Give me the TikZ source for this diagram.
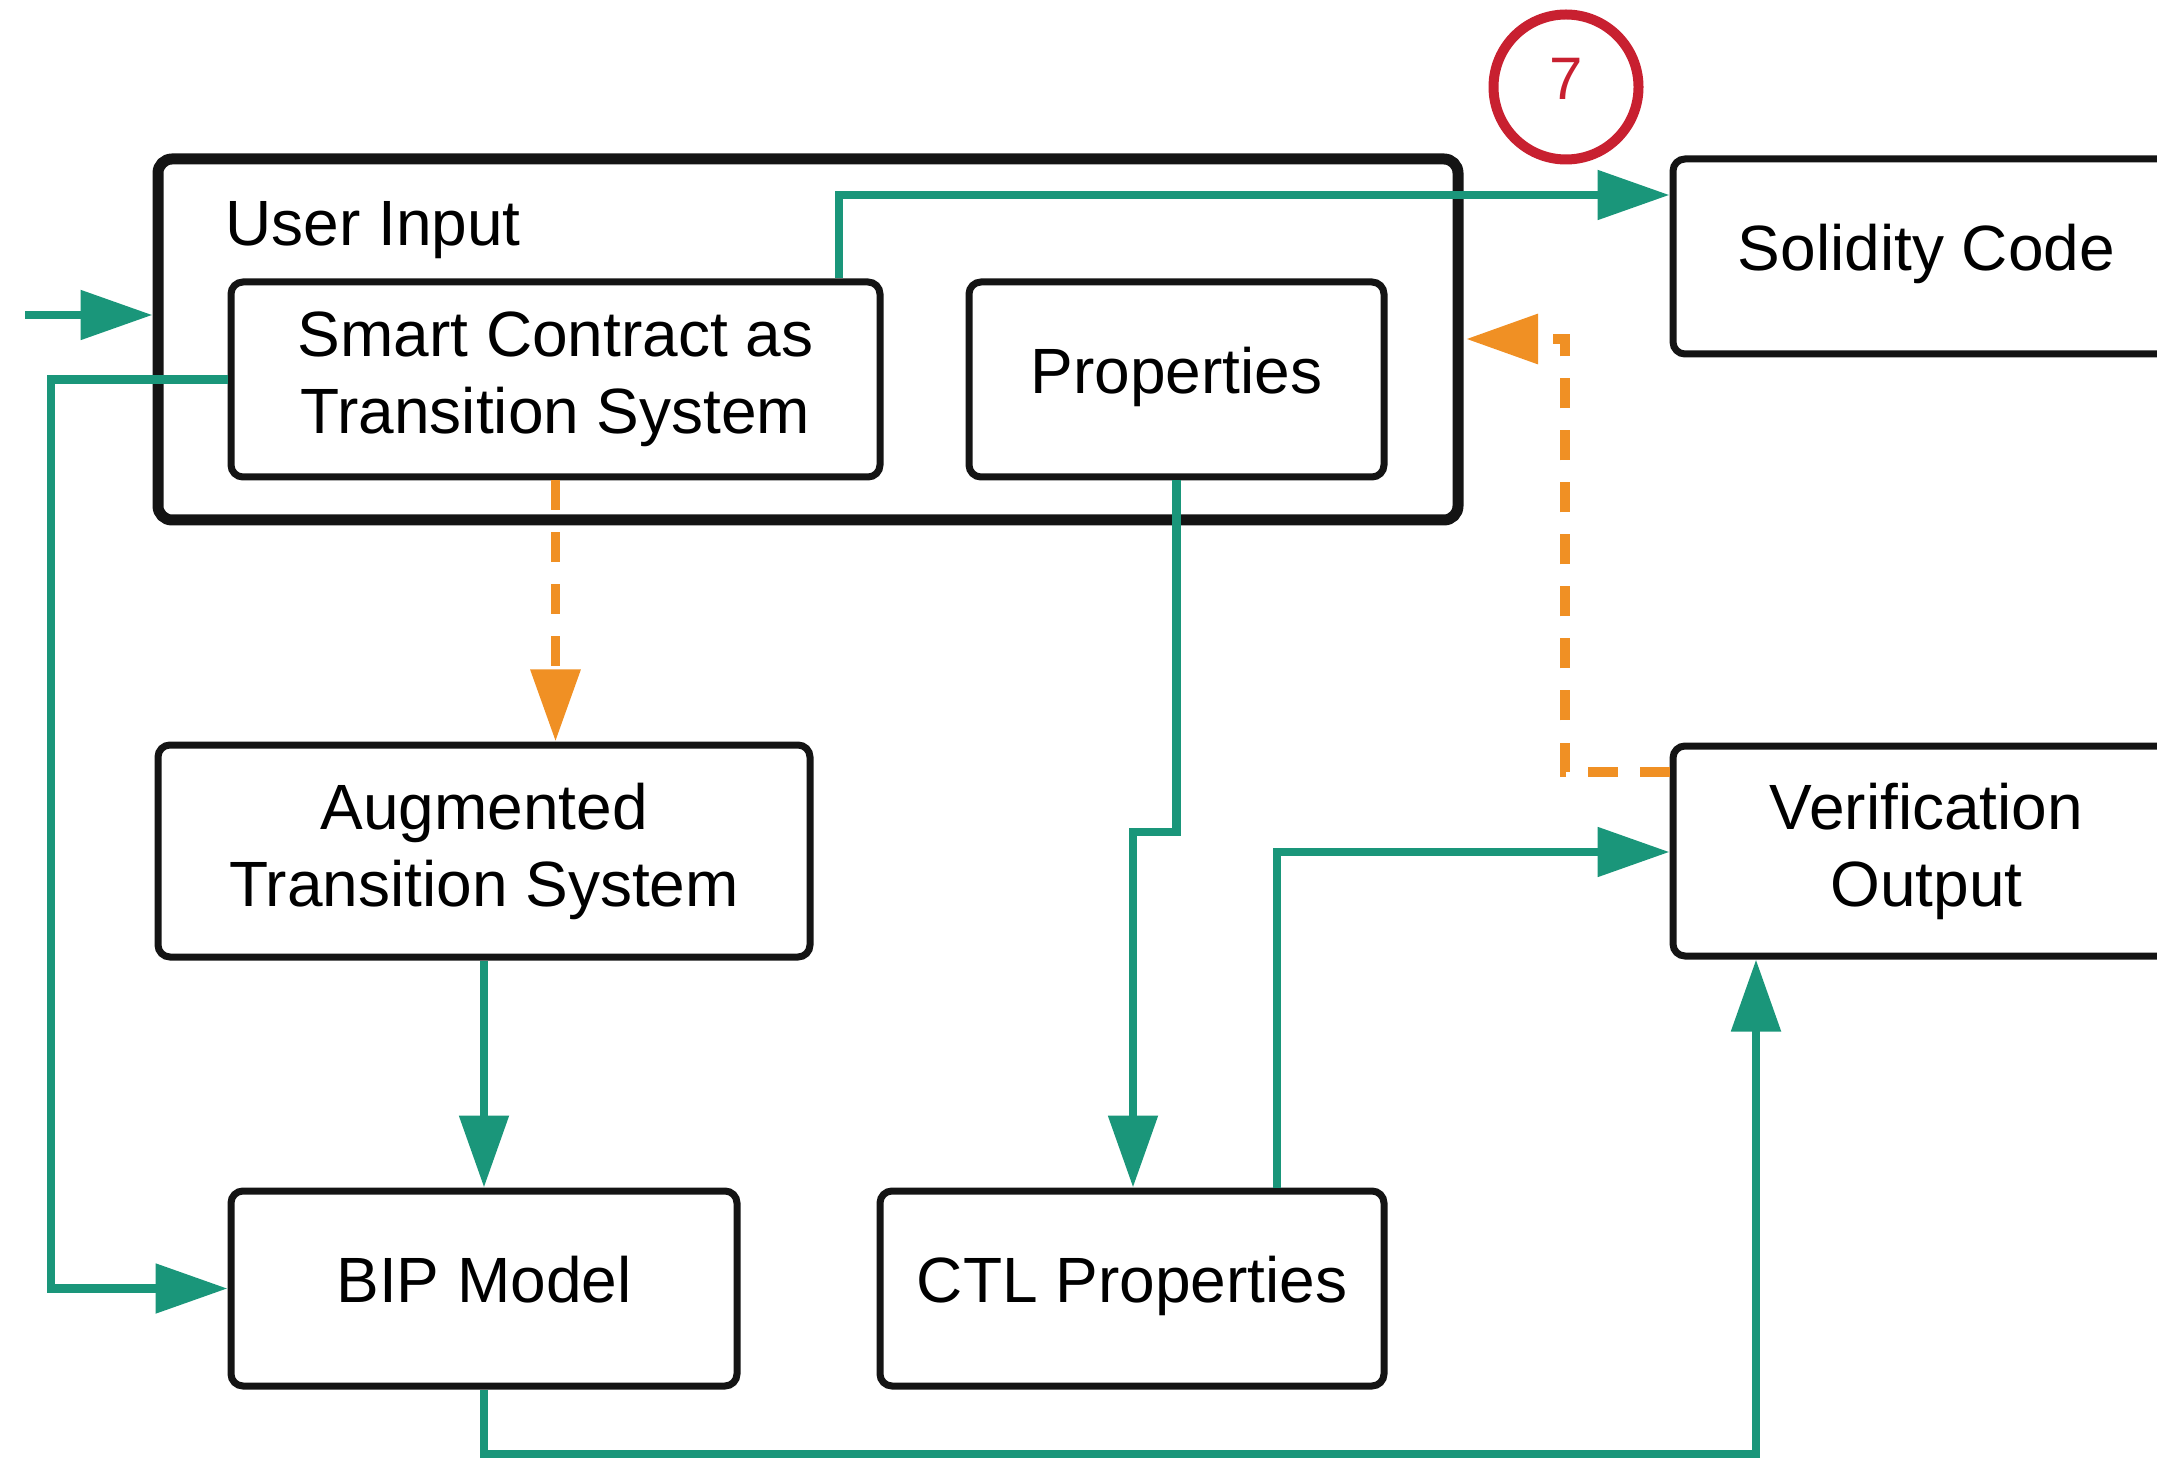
\documentclass[tikz,border=0pt]{standalone}
\usepackage{fontspec}
\setmainfont{Liberation Sans}
\usetikzlibrary{arrows.meta}
\definecolor{flowgreen}{RGB}{26,150,122}
\definecolor{feedorange}{RGB}{240,144,36}
\definecolor{markred}{RGB}{200,32,48}
\begin{document}
\begin{tikzpicture}[x=0.5pt,y=-0.5pt,
  box/.style={draw=black!92, line width=3.5pt, rounded corners=6pt, inner sep=0pt,
    align=center, font=\fontsize{32}{38.5}\selectfont},
  oneline/.style={text height=24pt, text depth=10pt},
  flow/.style={draw=flowgreen, line width=4.3pt,
    -{Triangle[length=36pt,width=24pt]}},
  feedback/.style={draw=feedorange, line width=4.8pt, dash pattern=on 15pt off 11pt,
    -{Triangle[length=36pt,width=24pt]}},
]
\useasboundingbox (0,0) rectangle (2157,1459);
\clip (0,0) rectangle (2157,1459);

% user input group and its parts
\node[box, line width=5.5pt, rounded corners=7pt, minimum width=650pt, minimum height=180.5pt] (ui) at (808,339.5) {};
\node[anchor=base west, inner sep=0pt, font=\fontsize{32}{38.5}\selectfont] (uilabel) at (225,246) {User Input};
\node[box, minimum width=324.5pt, minimum height=97.5pt] (sc) at (555.5,379.5) {Smart Contract as\\Transition System};
\node[box, oneline, minimum width=207.5pt, minimum height=97.5pt] (prop) at (1176.5,379.5) {Properties};

% remaining stages
\node[box, oneline, minimum width=253.5pt, minimum height=97.5pt] (sol) at (1926.5,256.5) {Solidity Code};
\node[box, minimum width=253.5pt, minimum height=105pt] (ver) at (1926.5,851) {Verification\\Output};
\node[box, minimum width=326pt, minimum height=106pt] (aug) at (484,851) {Augmented\\Transition System};
\node[box, oneline, minimum width=253pt, minimum height=97.5pt] (bip) at (484,1288.5) {BIP Model};
\node[box, oneline, minimum width=252pt, minimum height=97.5pt] (ctl) at (1132,1288.5) {CTL Properties};

% step marker
\node[draw=markred, circle, line width=5pt, minimum size=72.5pt, inner sep=0pt,
  text=markred, font=\fontsize{30}{36}\selectfont, text height=22pt, text depth=9pt] (seven) at (1566,87) {7};

% incoming flow
\coordinate (entry) at (25,315);
\draw[flow] (entry) -- (ui.west |- entry);

% main flows
\draw[flow] (sc.north -| 839,0) |- (sol.west |- 0,195);
\draw[flow] (sc.west) -- (sc.west -| 51,0) |- (bip.west);
\draw[flow] (aug.south) -- (bip.north);
\draw[flow] (prop.south) -- (prop.south |- 0,832) -| (ctl.north -| 1133,0);
\draw[flow] (ctl.north -| 1277,0) |- (ver.west |- 0,852);
\draw[flow] (bip.south) -- (bip.south |- 0,1454) -| (ver.south -| 1756,0);

% feedback flows
\draw[feedback] (sc.south) -- (aug.north -| sc.south);
\coordinate (fbtip) at (1466,339);
\draw[feedback] (ver.west |- 0,772) -| (1565,339) -- (fbtip);
\end{tikzpicture}
\end{document}
